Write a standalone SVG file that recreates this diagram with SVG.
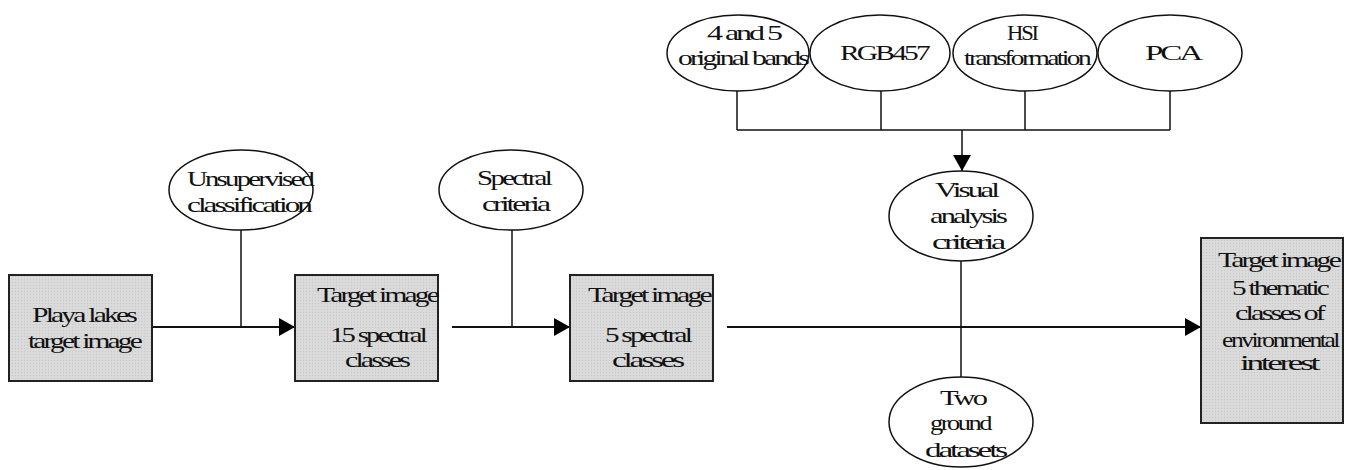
<svg xmlns="http://www.w3.org/2000/svg" width="1349" height="470" viewBox="0 0 1349 470">
<style>
.box{stroke:#222;stroke-width:2}
.ell{fill:#fff;stroke:#111;stroke-width:1.5}
.t{font-family:"Liberation Serif","Times New Roman",serif;font-size:21px;fill:#111;letter-spacing:-2px}
.c{fill:none;stroke:#111;stroke-width:1.5}
.m{fill:none;stroke:#111;stroke-width:2}
</style>
<defs>
<pattern id="hatch" width="3" height="3" patternUnits="userSpaceOnUse">
<rect width="3" height="3" fill="#dadada"/>
<rect width="1" height="1" fill="#c8c8c8"/>
</pattern>
<marker id="arr" markerWidth="16" markerHeight="18" refX="16" refY="9" orient="auto" markerUnits="userSpaceOnUse">
<path d="M0,0 L16,9 L0,18 Z" fill="#000"/>
</marker>
</defs>
<g id="connectors">
<line class="m" x1="152" y1="327" x2="295" y2="327" marker-end="url(#arr)"/>
<line class="m" x1="452" y1="327" x2="570" y2="327" marker-end="url(#arr)"/>
<line class="m" x1="727" y1="327" x2="1201" y2="327" marker-end="url(#arr)"/>
<line class="c" x1="241" y1="230" x2="241" y2="327"/>
<line class="c" x1="512" y1="230" x2="512" y2="327"/>
<line class="c" x1="961" y1="261" x2="961" y2="377"/>
<line class="c" x1="737" y1="91" x2="737" y2="130"/>
<line class="c" x1="881" y1="91" x2="881" y2="130"/>
<line class="c" x1="1025" y1="91" x2="1025" y2="130"/>
<line class="c" x1="1170" y1="91" x2="1170" y2="130"/>
<line class="c" x1="737" y1="130" x2="1170" y2="130"/>
<line class="c" x1="962" y1="130" x2="962" y2="171" marker-end="url(#arr)"/>
</g>
<g id="playa">
<rect class="box" x="9" y="275" width="143" height="106" style="fill:url(#hatch)"/>
<text class="t" x="32" y="322" textLength="103" lengthAdjust="spacingAndGlyphs">Playa lakes</text>
<text class="t" x="28" y="348" textLength="112" lengthAdjust="spacingAndGlyphs">target image</text>
</g>
<g id="unsupervised">
<ellipse class="ell" cx="241" cy="190" rx="72" ry="40"/>
<text class="t" x="187" y="186" textLength="125" lengthAdjust="spacingAndGlyphs">Unsupervised</text>
<text class="t" x="187" y="212" textLength="123" lengthAdjust="spacingAndGlyphs">classification</text>
</g>
<g id="target15">
<rect class="box" x="295" y="275" width="143" height="106" style="fill:url(#hatch)"/>
<text class="t" x="317" y="302" textLength="120" lengthAdjust="spacingAndGlyphs">Target image</text>
<text class="t" x="330" y="342" textLength="95" lengthAdjust="spacingAndGlyphs">15 spectral</text>
<text class="t" x="345" y="367" textLength="63" lengthAdjust="spacingAndGlyphs">classes</text>
</g>
<g id="spectral">
<ellipse class="ell" cx="511" cy="190" rx="72" ry="40"/>
<text class="t" x="477" y="185" textLength="73" lengthAdjust="spacingAndGlyphs">Spectral</text>
<text class="t" x="482" y="211" textLength="66" lengthAdjust="spacingAndGlyphs">criteria</text>
</g>
<g id="target5">
<rect class="box" x="570" y="275" width="143" height="106" style="fill:url(#hatch)"/>
<text class="t" x="588" y="302" textLength="122" lengthAdjust="spacingAndGlyphs">Target image</text>
<text class="t" x="605" y="342" textLength="85" lengthAdjust="spacingAndGlyphs">5 spectral</text>
<text class="t" x="612" y="367" textLength="70" lengthAdjust="spacingAndGlyphs">classes</text>
</g>
<g id="bands">
<ellipse class="ell" cx="738" cy="53" rx="71" ry="38"/>
<text class="t" x="707" y="40" textLength="73" lengthAdjust="spacingAndGlyphs">4 and 5</text>
<text class="t" x="678" y="65" textLength="129" lengthAdjust="spacingAndGlyphs">original bands</text>
</g>
<g id="rgb">
<ellipse class="ell" cx="880" cy="53" rx="70" ry="38"/>
<text class="t" x="840" y="60" textLength="88" lengthAdjust="spacingAndGlyphs">RGB457</text>
</g>
<g id="hsi">
<ellipse class="ell" cx="1025" cy="53" rx="72" ry="38"/>
<text class="t" x="1007" y="40" textLength="30" lengthAdjust="spacingAndGlyphs">HSI</text>
<text class="t" x="964" y="65" textLength="125" lengthAdjust="spacingAndGlyphs">transformation</text>
</g>
<g id="pca">
<ellipse class="ell" cx="1170" cy="53" rx="72" ry="38"/>
<text class="t" x="1145" y="60" textLength="55" lengthAdjust="spacingAndGlyphs">PCA</text>
</g>
<g id="visual">
<ellipse class="ell" cx="961" cy="216" rx="72" ry="45"/>
<text class="t" x="935" y="197" textLength="62" lengthAdjust="spacingAndGlyphs">Visual</text>
<text class="t" x="930" y="223" textLength="75" lengthAdjust="spacingAndGlyphs">analysis</text>
<text class="t" x="932" y="249" textLength="71" lengthAdjust="spacingAndGlyphs">criteria</text>
</g>
<g id="ground">
<ellipse class="ell" cx="961" cy="422" rx="72" ry="45"/>
<text class="t" x="940" y="405" textLength="45" lengthAdjust="spacingAndGlyphs">Two</text>
<text class="t" x="930" y="430" textLength="60" lengthAdjust="spacingAndGlyphs">ground</text>
<text class="t" x="925" y="457" textLength="80" lengthAdjust="spacingAndGlyphs">datasets</text>
</g>
<g id="thematic">
<rect class="box" x="1201" y="238" width="142" height="185" style="fill:url(#hatch)"/>
<text class="t" x="1218" y="267" textLength="121" lengthAdjust="spacingAndGlyphs">Target image</text>
<text class="t" x="1232" y="295" textLength="95" lengthAdjust="spacingAndGlyphs">5 thematic</text>
<text class="t" x="1235" y="320" textLength="88" lengthAdjust="spacingAndGlyphs">classes of</text>
<text class="t" x="1222" y="347" textLength="116" lengthAdjust="spacingAndGlyphs">environmental</text>
<text class="t" x="1240" y="370" textLength="77" lengthAdjust="spacingAndGlyphs">interest</text>
</g>
</svg>
